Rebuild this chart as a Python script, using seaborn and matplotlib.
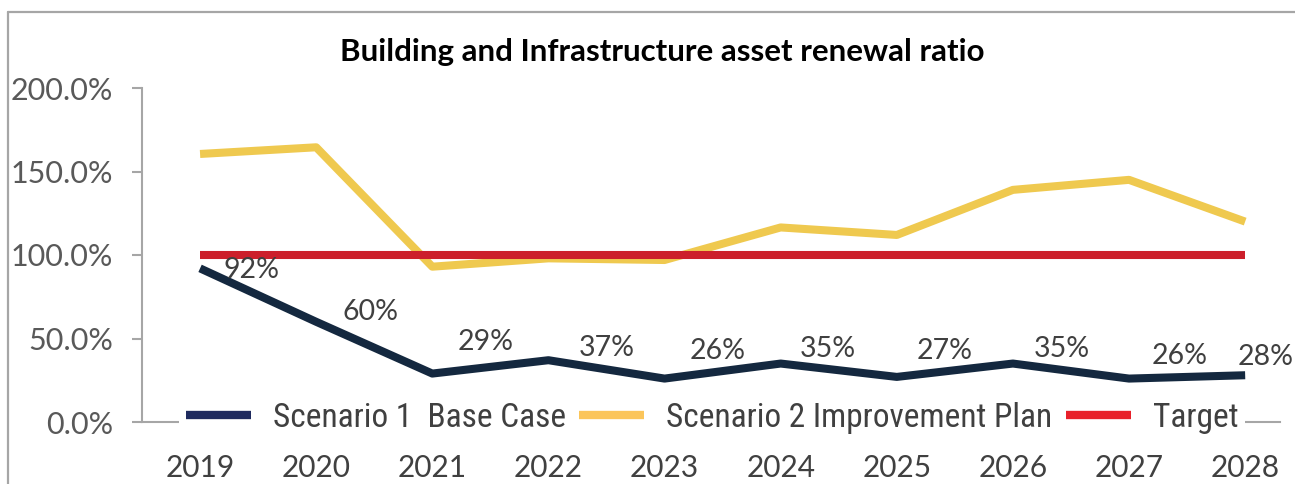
import matplotlib
matplotlib.use("Agg")
import matplotlib.pyplot as plt
from matplotlib.lines import Line2D
from matplotlib.ticker import FuncFormatter
from matplotlib import font_manager
import seaborn as sns
import pandas as pd

years = ["2019", "2020", "2021", "2022", "2023", "2024", "2025", "2026", "2027", "2028"]
base_case = [92, 60, 29, 37, 26, 35, 27, 35, 26, 28]
improvement_plan = [160.5, 164.5, 93, 98, 97, 116.5, 112, 139, 145, 120]
target = [100, 100, 100, 100, 100, 100, 100, 100, 100, 100]
series_names = ["Scenario 1  Base Case", "Scenario 2 Improvement Plan", "Target"]
yticks = [0, 50, 100, 150, 200]

colors = {"Scenario 1  Base Case": "#14283f",
          "Scenario 2 Improvement Plan": "#efc94f",
          "Target": "#cc1f2b"}
legend_colors = ["#1e2a5e", "#fbc55a", "#e8202a"]
# label nudges in pixels (dx, dy with up positive)
label_offsets = [(51, -2), (54, 10), (53, 32), (58, 12), (53, 28),
                 (47, 15), (48, 26), (49, 15), (51, 23), (20, 18)]

df = pd.DataFrame({
    "year": years * 3,
    "x": list(range(len(years))) * 3,
    "value": base_case + improvement_plan + target,
    "series": [series_names[0]] * len(years) + [series_names[1]] * len(years)
              + [series_names[2]] * len(years),
})

sns.set_theme(style="white")
plt.rcParams["font.family"] = ["Lato", "DejaVu Sans"]

installed = {f.name for f in font_manager.fontManager.ttflist}
legend_family = next((f for f in ["Liberation Sans Narrow", "Roboto Condensed", "Roboto"]
                      if f in installed), "DejaVu Sans")

fig = plt.figure(figsize=(12.95, 4.84), dpi=100)
ax = fig.add_axes([142 / 1295, 62 / 484, 1138 / 1295, 334 / 484])

z = {"Target": 2, "Scenario 2 Improvement Plan": 1, "Scenario 1  Base Case": 3}
for name in series_names:
    sub = df[df["series"] == name]
    sns.lineplot(data=sub, x="x", y="value", ax=ax, color=colors[name],
                 linewidth=5.8, solid_capstyle="butt", legend=False, zorder=z[name])

ax.set_xlim(-0.5, 9.3)
ax.set_ylim(0, 200)
ax.set_xticks(range(len(years)))
ax.set_xticklabels(years)
ax.set_yticks(yticks)
ax.yaxis.set_major_formatter(FuncFormatter(lambda v, p: f"{v:.1f}%"))
ax.set_xlabel("")
ax.set_ylabel("")

for s in ["top", "right"]:
    ax.spines[s].set_visible(False)
for s in ["left", "bottom"]:
    ax.spines[s].set_color("#a6a6a6")
    ax.spines[s].set_linewidth(1.5)

ax.tick_params(axis="y", which="major", left=True, length=7, width=1.5,
               color="#a6a6a6", labelsize=22, labelcolor="#595959", pad=14)
ax.tick_params(axis="x", which="major", bottom=False, labelsize=21.5,
               labelcolor="#404040", pad=17)

for i, v in enumerate(base_case):
    dx, dy = label_offsets[i]
    ax.annotate(f"{v}%", (i, v), xytext=(dx * 0.72, dy * 0.72),
                textcoords="offset points", ha="center", va="center",
                fontsize=20.5, color="#404040", zorder=5, annotation_clip=False)

handles = [Line2D([0], [0], color=c, linewidth=6, solid_capstyle="butt")
           for c in legend_colors]
leg = fig.legend(handles, series_names, loc="center",
                 bbox_to_anchor=(712 / 1295, 1 - 418 / 484), ncol=3,
                 frameon=True, framealpha=1, facecolor="white",
                 edgecolor="none", handlelength=1.95,
                 handletextpad=0.66, columnspacing=0.4, borderpad=0.2,
                 prop={"family": [legend_family, "DejaVu Sans"], "size": 24})
for t in leg.get_texts():
    t.set_color("#404040")
leg.set_zorder(10)

fig.text(662 / 1295, 1 - 52 / 484, "Building and Infrastructure asset renewal ratio",
         ha="center", va="center", fontsize=22.5, fontweight="bold", color="#000000")

# outer chart border
fig.add_artist(Line2D([8 / 1295, 1], [1 - 12 / 484, 1 - 12 / 484],
                      color="#a6a6a6", linewidth=1.6, transform=fig.transFigure))
fig.add_artist(Line2D([8 / 1295, 8 / 1295], [0, 1 - 12 / 484],
                      color="#a6a6a6", linewidth=1.6, transform=fig.transFigure))

fig.savefig("out.png", dpi=100, facecolor="white")
